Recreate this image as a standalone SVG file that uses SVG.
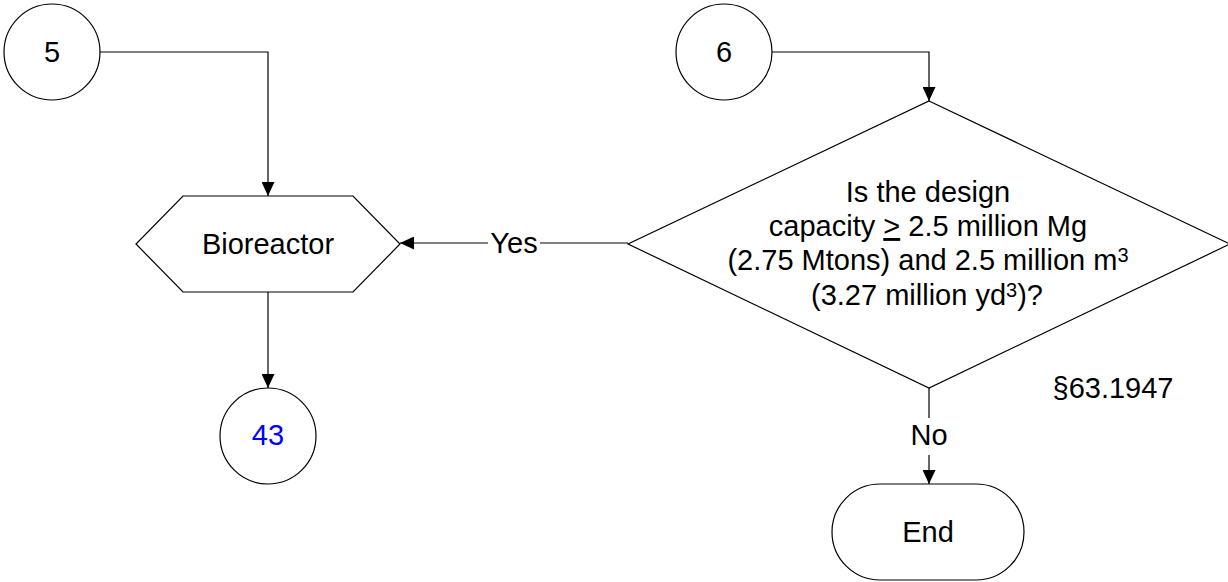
<svg xmlns="http://www.w3.org/2000/svg" width="1228" height="582" viewBox="0 0 1228 582">
<style>
.s{fill:#fff;stroke:#000;stroke-width:1.2}
.t{font-family:"Liberation Sans",Arial,sans-serif;font-size:29px;fill:#000;text-anchor:middle}
.sup{font-size:20px}
.c{fill:none;stroke:#000;stroke-width:1.2}
</style>
<defs>
<marker id="ah" markerWidth="14" markerHeight="13" refX="14" refY="6.5" orient="auto" markerUnits="userSpaceOnUse">
<path d="M0,0 L14,6.5 L0,13 Z" fill="#000"/>
</marker>
</defs>
<rect width="1228" height="582" fill="#fff"/>
<g id="connectors">
<path class="c" d="M100,52 H268 V196" marker-end="url(#ah)"/>
<path class="c" d="M772,52 H929 V101" marker-end="url(#ah)"/>
<path class="c" d="M268,292 V388" marker-end="url(#ah)"/>
<path class="c" d="M628,243 H540"/>
<path class="c" d="M488,243 H400" marker-end="url(#ah)"/>
<text class="t" x="514" y="253">Yes</text>
<path class="c" d="M929,388 V418"/>
<path class="c" d="M929,455 V484" marker-end="url(#ah)"/>
<text class="t" x="929" y="445">No</text>
</g>
<g id="n5">
<circle class="s" cx="52" cy="52" r="48"/>
<text class="t" x="52" y="62">5</text>
</g>
<g id="n6">
<circle class="s" cx="724" cy="52" r="48"/>
<text class="t" x="724" y="62">6</text>
</g>
<g id="bioreactor">
<polygon class="s" points="183,196 353,196 400,244 353,292 183,292 136,244"/>
<text class="t" x="268" y="254">Bioreactor</text>
</g>
<g id="n43">
<circle class="s" cx="268" cy="436" r="48"/>
<text class="t" x="268" y="445" style="fill:#0000ff">43</text>
</g>
<g id="decision">
<polygon class="s" points="929,101 1230,244 929,388 628,244"/>
<text class="t" x="928" y="202">Is the design</text>
<text class="t" x="928" y="236">capacity <tspan style="text-decoration:underline">&gt;</tspan> 2.5 million Mg</text>
<text class="t" x="928" y="270">(2.75 Mtons) and 2.5 million m<tspan class="sup" dy="-8">3</tspan></text>
<text class="t" x="927" y="305">(3.27 million yd<tspan class="sup" dy="-8">3</tspan><tspan dy="8">)?</tspan></text>
</g>
<g id="ref">
<text class="t" x="1113" y="398">§63.1947</text>
</g>
<g id="end">
<rect class="s" x="832" y="484" width="192" height="96" rx="48" ry="48"/>
<text class="t" x="928" y="542">End</text>
</g>
</svg>
